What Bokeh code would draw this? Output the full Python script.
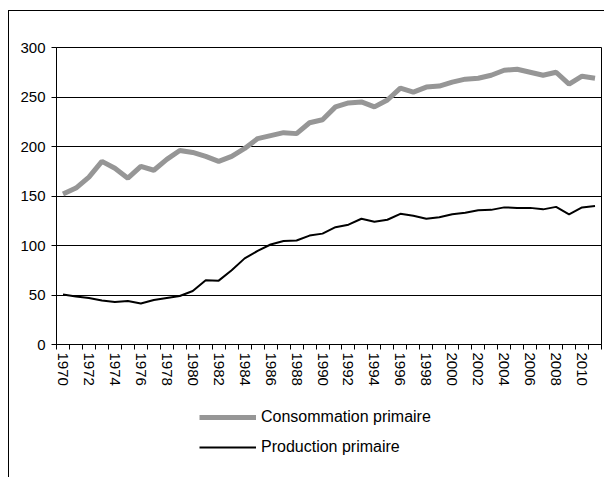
from bokeh.plotting import figure
from bokeh.layouts import column
from bokeh.models import Range1d, FixedTicker, Legend, LegendItem
from bokeh.embed import file_html
from bokeh.resources import INLINE

years = list(range(1970, 2012))
consommation = [152, 158, 169, 185, 178, 168, 180, 176, 187, 196,
                194, 190, 185, 190, 198, 208, 211, 214, 213, 224,
                227, 240, 244, 245, 240, 247, 259, 255, 260, 261,
                265, 268, 269, 272, 277, 278, 275, 272, 275, 263,
                271, 269]
production = [50.5, 48.5, 47, 44.5, 43, 44, 41.5, 45, 47, 49,
              54, 65, 64.5, 75, 87, 94.5, 101, 104.5, 105, 110,
              112, 118.5, 121, 127, 124, 126, 132, 130, 127, 128.5,
              131.5, 133, 135.5, 136, 138.5, 138, 138, 136.5, 139, 131.5,
              138.5, 140]
series_names = ["Consommation primaire", "Production primaire"]
tick_years = list(range(1970, 2011, 2))
y_ticks = [0, 50, 100, 150, 200, 250, 300]

FONT = "Liberation Sans"
GREY = "#969696"

p = figure(output_backend="svg", toolbar_location=None,
           frame_width=545, frame_height=297,
           min_border_left=47, min_border_top=36,
           min_border_right=3, min_border_bottom=50,
           x_range=Range1d(years[0] - 0.5, years[-1] + 0.5),
           y_range=Range1d(0, 300))
p.outline_line_color = "black"
p.outline_line_width = 1
p.background_fill_color = "white"
p.border_fill_color = "white"

p.line(years, consommation, line_color=GREY, line_width=5)
p.line(years, production, line_color="black", line_width=2)

p.xgrid.grid_line_color = None
p.ygrid.grid_line_color = "black"
p.ygrid.grid_line_width = 1

xa = p.xaxis[0]
xa.ticker = FixedTicker(ticks=tick_years,
                        minor_ticks=[y - 0.5 for y in years] + [years[-1] + 0.5])
xa.major_label_orientation = "vertical"
xa.major_tick_line_color = None
xa.major_tick_out = 5
xa.major_tick_in = 0
xa.minor_tick_line_color = "black"
xa.minor_tick_out = 5
xa.minor_tick_in = 0
xa.axis_line_color = "black"
xa.major_label_text_font = FONT
xa.major_label_text_font_size = "15px"
xa.major_label_text_color = "black"
xa.major_label_standoff = 3
xa.major_label_overrides = {y: str(y) for y in tick_years}

ya = p.yaxis[0]
ya.ticker = FixedTicker(ticks=y_ticks)
ya.major_tick_out = 5
ya.major_tick_in = 0
ya.minor_tick_line_color = None
ya.major_tick_line_color = "black"
ya.axis_line_color = "black"
ya.major_label_text_font = FONT
ya.major_label_text_font_size = "15px"
ya.major_label_text_color = "black"
ya.major_label_standoff = 6

# legend strip under the chart (its lines fall outside its own view,
# so only the legend entries are seen)
lg = figure(output_backend="svg", toolbar_location=None,
            width=595, height=83,
            min_border_left=0, min_border_right=0,
            min_border_top=0, min_border_bottom=0,
            x_axis_location=None, y_axis_location=None,
            x_range=Range1d(0, 1), y_range=Range1d(0, 1))
lg.outline_line_color = None
lg.xgrid.grid_line_color = None
lg.ygrid.grid_line_color = None
lg.border_fill_color = "white"
lr1 = lg.line(years, consommation, line_color=GREY, line_width=5)
lr2 = lg.line(years, production, line_color="black", line_width=2)

legend = Legend(items=[LegendItem(label=series_names[0], renderers=[lr1]),
                       LegendItem(label=series_names[1], renderers=[lr2])],
                location=(143, 20), orientation="vertical",
                border_line_color=None, background_fill_alpha=0,
                padding=0, margin=0, spacing=10,
                glyph_width=57, glyph_height=20, label_standoff=5,
                label_text_font=FONT, label_text_font_size="16px",
                label_text_color="black")
lg.add_layout(legend, "center")

layout = column(p, lg, spacing=0)
layout.styles = {"border-left": "1px solid black", "border-top": "1px solid black",
                 "margin-top": "10px", "margin-left": "8px"}

open("out.html", "w").write(file_html(layout, INLINE))
